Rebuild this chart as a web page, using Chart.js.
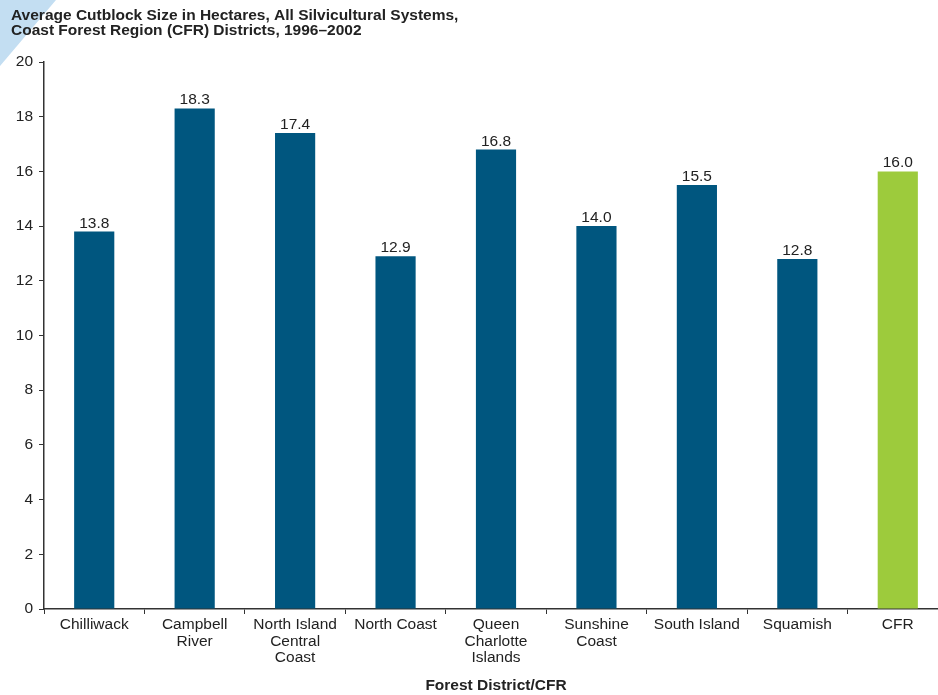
<!DOCTYPE html>
<html lang="en">
<head>
<meta charset="UTF-8">
<title>Average Cutblock Size in Hectares</title>
<script src="https://cdn.jsdelivr.net/npm/chart.js"></script>
<style>
  html, body { margin: 0; padding: 0; background: #fff; overflow: hidden; }
  canvas { display: block; }
</style>
</head>
<body>
<canvas id="chart" width="948" height="695"></canvas>
<script>
  // data
  const districts = [
    ['Chilliwack'], ['Campbell', 'River'], ['North Island', 'Central', 'Coast'],
    ['North Coast'], ['Queen', 'Charlotte', 'Islands'], ['Sunshine', 'Coast'],
    ['South Island'], ['Squamish'], ['CFR']
  ];
  const avgSize = [13.8, 18.3, 17.4, 12.9, 16.8, 14.0, 15.5, 12.8, 16.0];
  const yMin = 0, yMax = 20, yStep = 2;
  const titleLines = [
    'Average Cutblock Size in Hectares, All Silvicultural Systems,',
    'Coast Forest Region (CFR) Districts, 1996\u20132002'
  ];
  const xTitle = 'Forest District/CFR';

  const districtColor = '#00567f';
  const regionColor = '#9dcb3c';
  const font = '"Liberation Sans", Arial, sans-serif';
  const fsize = 15.5;

  const decor = {
    id: 'decor',
    beforeDraw(chart) {
      const ctx = chart.ctx;
      ctx.save();
      ctx.fillStyle = '#c3def2';
      ctx.beginPath();
      ctx.moveTo(0, 0);
      ctx.lineTo(56, 0);
      ctx.lineTo(0, 66);
      ctx.closePath();
      ctx.fill();
      ctx.fillStyle = '#222';
      ctx.font = 'bold ' + fsize + 'px ' + font;
      ctx.textBaseline = 'middle';
      titleLines.forEach((t, i) => ctx.fillText(t, 11, 16 + i * 15));
      ctx.restore();
    },
    afterDatasetsDraw(chart) {
      const ctx = chart.ctx;
      const meta = chart.getDatasetMeta(0);
      ctx.save();
      ctx.fillStyle = '#222';
      ctx.font = fsize + 'px ' + font;
      ctx.textAlign = 'center';
      ctx.textBaseline = 'alphabetic';
      meta.data.forEach((bar, i) => {
        ctx.fillText(avgSize[i].toFixed(1), bar.x, bar.y - 4);
      });
      ctx.restore();
    }
  };

  new Chart(document.getElementById('chart'), {
    type: 'bar',
    data: {
      labels: districts,
      datasets: [{
        data: avgSize,
        backgroundColor: districts.map((d, i) => i === districts.length - 1 ? regionColor : districtColor),
        barPercentage: 0.4,
        categoryPercentage: 1
      }]
    },
    options: {
      responsive: false,
      animation: false,
      layout: { padding: { top: 62, right: 0, bottom: 0, left: 0 } },
      plugins: { legend: { display: false }, tooltip: { enabled: false } },
      scales: {
        x: {
          grid: { display: true, drawOnChartArea: false, tickLength: 5, color: '#333', lineWidth: 1 },
          border: { display: true, color: '#333', width: 1.5 },
          ticks: { color: '#222', font: { family: font, size: fsize, lineHeight: 1.06 }, padding: 3, maxRotation: 0, autoSkip: false },
          title: { display: true, text: xTitle, color: '#222', font: { family: font, size: fsize, weight: 'bold' }, padding: { top: 0, bottom: 0 } },
          afterFit(scale) { scale.height = 86; }
        },
        y: {
          min: yMin,
          max: yMax,
          grid: { display: true, drawOnChartArea: false, tickLength: 5, color: '#333', lineWidth: 1 },
          border: { display: true, color: '#333', width: 1.5 },
          ticks: { stepSize: yStep, color: '#222', font: { family: font, size: fsize }, padding: 6 },
          afterFit(scale) { scale.width = 44; }
        }
      }
    },
    plugins: [decor]
  });
</script>
</body>
</html>
